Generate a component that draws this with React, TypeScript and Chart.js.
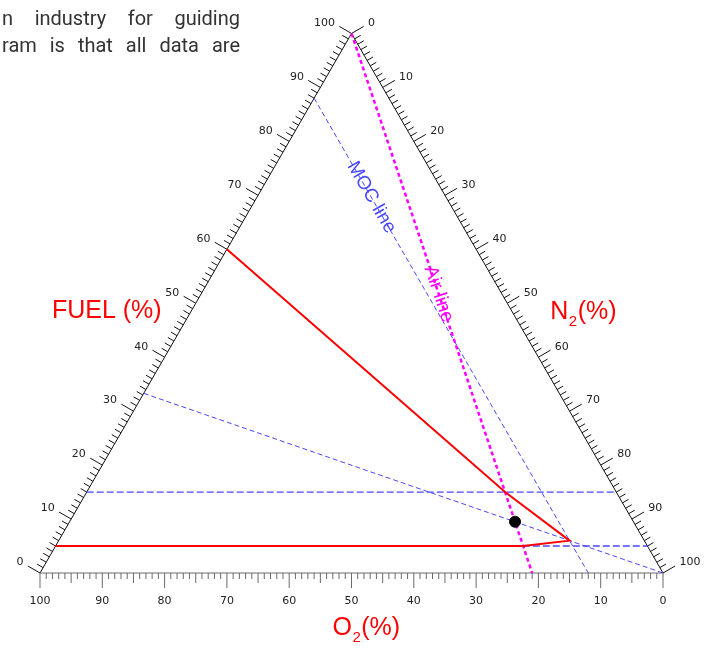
import React, { useEffect, useRef } from "react";
import { Chart, registerables } from "chart.js";

Chart.register(...registerables);

// ---- data (ternary: FUEL %, O2 %, N2 = 100 - FUEL - O2) ----
const envelopeFuel = [5, 5, 6, 15, 60];
const envelopeO2 = [95, 20, 12, 17.85, 40];

const airLineFuel = [100, 0];
const airLineO2 = [0, 21];

const mocLineFuel = [88, 0];
const mocLineO2 = [12, 12];

const stoichLineFuel = [33.3, 0];
const stoichLineO2 = [66.7, 0];

const uflLineFuel = [15, 15];
const uflLineO2 = [85, 0];

const lflLineFuel = [5, 5];
const lflLineO2 = [20, 0];

const stoichPointFuel = [9.5];
const stoichPointO2 = [19];

const tickValues = Array.from({ length: 101 }, (_, i) => i);
const majorTickLabels = ["0", "10", "20", "30", "40", "50", "60", "70", "80", "90", "100"];

const S = Math.sqrt(3) / 2;
const toXY = (fuel: number, o2: number) => {
  const n2 = 100 - fuel - o2;
  return { x: n2 + fuel / 2, y: fuel * S };
};
const series = (fuel: number[], o2: number[]) => fuel.map((f, i) => toXY(f, o2[i]));

const BLUE = "rgb(72,72,255)";
const MAGENTA = "#ff00ff";
const RED = "#ff0000";

const ternaryPlugin = {
  id: "ternaryAxes",
  beforeDatasetsDraw(chart: any) {
    const ctx = chart.ctx;
    const xs = chart.scales.x;
    const ys = chart.scales.y;
    const px = (f: number, o: number) => {
      const p = toXY(f, o);
      return { x: xs.getPixelForValue(p.x), y: ys.getPixelForValue(p.y) };
    };
    const bl = px(0, 100);
    const br = px(0, 0);
    const top = px(100, 0);
    ctx.save();
    ctx.lineWidth = 1;
    ctx.strokeStyle = "#111";
    ctx.beginPath();
    ctx.moveTo(bl.x, bl.y);
    ctx.lineTo(top.x, top.y);
    ctx.lineTo(br.x, br.y);
    ctx.stroke();
    ctx.strokeStyle = "#6a6a6a";
    ctx.beginPath();
    ctx.moveTo(bl.x, bl.y);
    ctx.lineTo(br.x, br.y);
    ctx.stroke();

    const nl = { x: -Math.cos(Math.PI / 6), y: -0.5 };
    const nr = { x: Math.cos(Math.PI / 6), y: -0.5 };
    ctx.font = "11px 'DejaVu Sans'";
    ctx.fillStyle = "#222";
    tickValues.forEach((v) => {
      const major = v % 10 === 0;
      const pb = px(0, v);
      const lb = major ? 15 : v % 5 === 0 ? 10 : 6;
      ctx.strokeStyle = "#6a6a6a";
      ctx.beginPath();
      ctx.moveTo(pb.x, pb.y);
      ctx.lineTo(pb.x, pb.y + lb);
      ctx.stroke();
      const pl = px(v, 100 - v);
      const ll = major ? 14 : 7;
      ctx.strokeStyle = "#111";
      ctx.beginPath();
      ctx.moveTo(pl.x, pl.y);
      ctx.lineTo(pl.x + nl.x * ll, pl.y + nl.y * ll);
      ctx.stroke();
      const pr = px(100 - v, 0);
      ctx.beginPath();
      ctx.moveTo(pr.x, pr.y);
      ctx.lineTo(pr.x + nr.x * ll, pr.y + nr.y * ll);
      ctx.stroke();

      if (major) {
        const lbl = majorTickLabels[v / 10];
        ctx.textBaseline = "middle";
        ctx.textAlign = "center";
        ctx.fillText(lbl, pb.x, pb.y + 28);
        ctx.textAlign = "right";
        ctx.fillText(lbl, pl.x + nl.x * (ll + 5), pl.y + nl.y * (ll + 5) - 1);
        ctx.textAlign = "left";
        ctx.fillText(lbl, pr.x + nr.x * (ll + 5), pr.y + nr.y * (ll + 5) - 1);
      }
    });
    ctx.restore();
  },
  afterDatasetsDraw(chart: any) {
    const ctx = chart.ctx;
    const xs = chart.scales.x;
    const ys = chart.scales.y;
    const px = (f: number, o: number) => {
      const p = toXY(f, o);
      return { x: xs.getPixelForValue(p.x), y: ys.getPixelForValue(p.y) };
    };
    ctx.save();
    const drawAlong = (text: string, f: number, o: number, a: any, b: any, color: string, font: string) => {
      const p = px(f, o);
      const ang = Math.atan2(b.y - a.y, b.x - a.x);
      ctx.save();
      ctx.translate(p.x, p.y);
      ctx.rotate(ang);
      ctx.fillStyle = color;
      ctx.font = font;
      ctx.textAlign = "center";
      ctx.textBaseline = "middle";
      ctx.fillText(text, 0, 0);
      ctx.restore();
    };
    drawAlong("MOC line", 69.6, 12, px(88, 12), px(0, 12), BLUE, "19px 'Liberation Sans'");
    drawAlong("Air line", 51.7, 10.15, px(100, 0), px(0, 21), MAGENTA, "19px 'Liberation Sans'");

    ctx.fillStyle = RED;
    ctx.textBaseline = "middle";
    const big = "25px 'Liberation Sans'";
    const sub = "15px 'Liberation Sans'";
    const mid = px(50, 50);
    ctx.font = big;
    ctx.textAlign = "center";
    ctx.fillText("FUEL (%)", mid.x - 89, mid.y + 8);

    const drawSub = (x: number, y: number, a: string, s: string, c: string) => {
      ctx.textAlign = "left";
      ctx.font = big;
      ctx.fillText(a, x, y);
      const w = ctx.measureText(a).width;
      ctx.font = sub;
      ctx.fillText(s, x + w + 0.5, y + 10);
      const w2 = ctx.measureText(s).width;
      ctx.font = big;
      ctx.fillText(c, x + w + w2 + 1, y);
    };
    const rmid = px(50, 0);
    drawSub(rmid.x + 43, rmid.y + 9, "N", "2", "(%)");
    const bmid = px(0, 50);
    drawSub(bmid.x - 19, bmid.y + 55, "O", "2", "(%)");
    ctx.restore();
  },
};

export default function App() {
  const ref = useRef<HTMLCanvasElement | null>(null);
  useEffect(() => {
    if (!ref.current) return;
    const k = 6.23;
    const line = (data: any[], color: string, width: number, dash: number[]) => ({
      data,
      showLine: true,
      borderColor: color,
      backgroundColor: color,
      borderWidth: width,
      borderDash: dash,
      pointRadius: 0,
      pointHoverRadius: 0,
      fill: false,
      tension: 0,
    });
    const chart = new Chart(ref.current, {
      type: "scatter",
      data: {
        datasets: [
          {
            data: series(stoichPointFuel, stoichPointO2),
            pointRadius: 5.5,
            pointHoverRadius: 5.5,
            backgroundColor: "#000",
            borderColor: "#000",
            showLine: false,
          } as any,
          line(series(envelopeFuel, envelopeO2), RED, 2, []),
          line(series(airLineFuel, airLineO2), MAGENTA, 2.5, [4, 3]),
          line(series(mocLineFuel, mocLineO2), BLUE, 1, [5, 3]),
          line(series(stoichLineFuel, stoichLineO2), BLUE, 1, [5, 3]),
          line(series(uflLineFuel, uflLineO2), BLUE, 1.3, [7, 3]),
          line(series(lflLineFuel, lflLineO2), BLUE, 1.3, [7, 3]),
        ],
      },
      options: {
        responsive: false,
        animation: false,
        events: [],
        layout: { padding: 0, autoPadding: false },
        plugins: {
          legend: { display: false },
          tooltip: { enabled: false },
          title: { display: false },
        },
        scales: {
          x: { type: "linear", display: false, min: -40 / k, max: (715 - 40) / k },
          y: { type: "linear", display: false, min: -(649 - 573) / k, max: 573 / k },
        },
      },
      plugins: [ternaryPlugin],
    } as any);
    return () => chart.destroy();
  }, []);

  const lineStyle: React.CSSProperties = {
    position: "absolute",
    left: 2,
    width: 238,
    font: "20px Roboto",
    color: "#333",
    textAlign: "justify",
    textAlignLast: "justify" as any,
    whiteSpace: "nowrap",
    lineHeight: "24px",
  };

  return (
    <div style={{ position: "absolute", left: 0, top: 0, width: 715, height: 649, background: "#fff" }}>
      <canvas ref={ref} width={715} height={649} style={{ position: "absolute", left: 0, top: 0 }} />
      <div style={{ ...lineStyle, top: 6 }}>n industry for guiding</div>
      <div style={{ ...lineStyle, top: 33 }}>ram is that all data are</div>
    </div>
  );
}
